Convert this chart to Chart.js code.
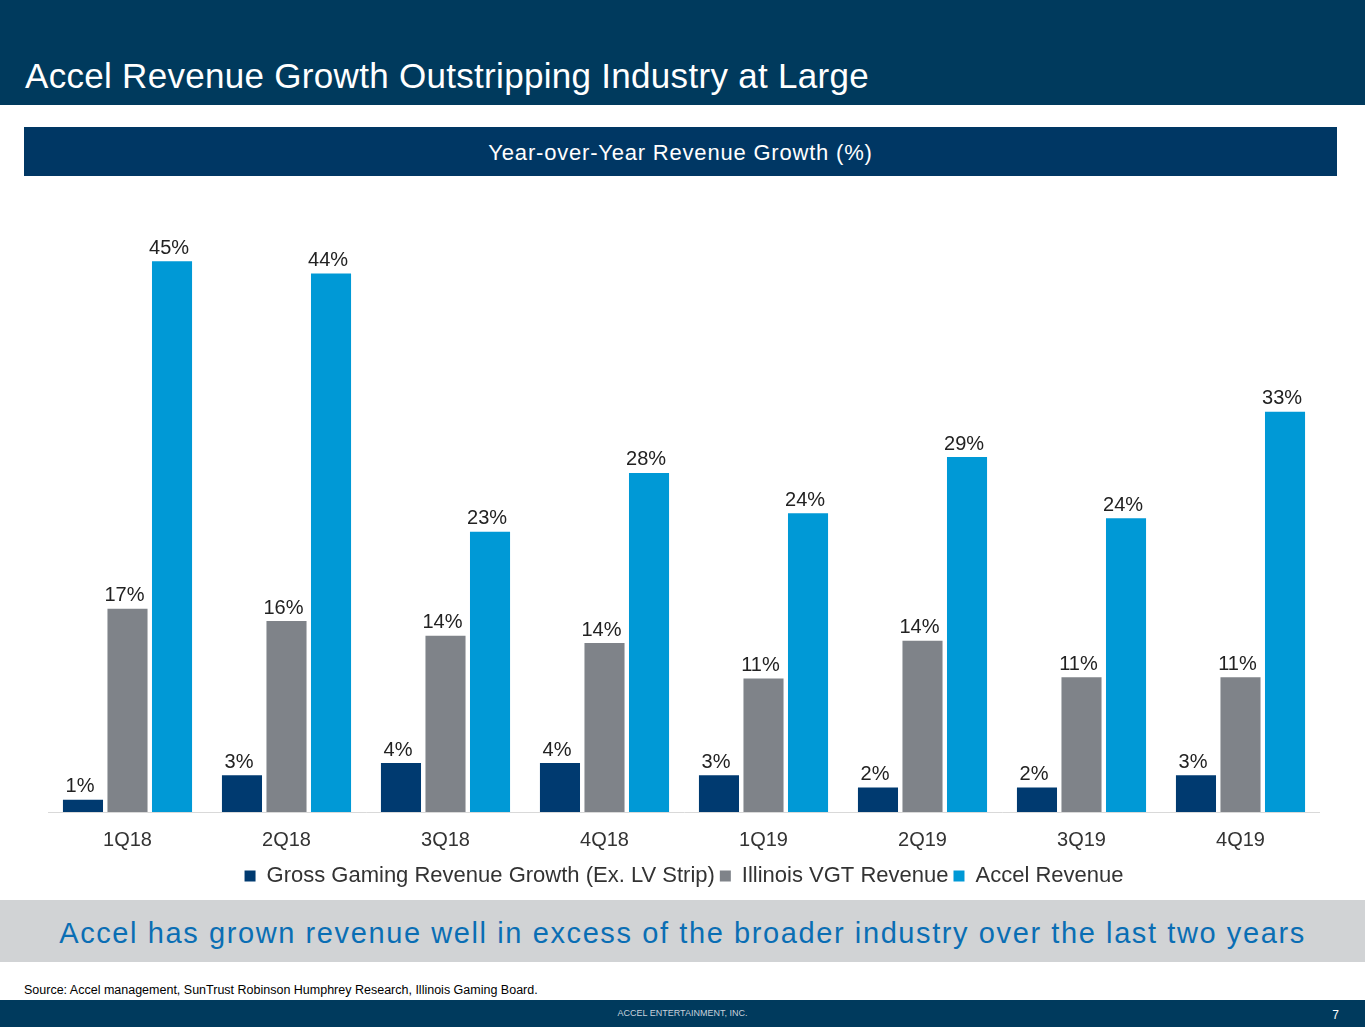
<!DOCTYPE html>
<html>
<head>
<meta charset="utf-8">
<script src="https://cdn.jsdelivr.net/npm/chart.js@4"></script>
<style>
  body{margin:0;width:1365px;height:1027px;position:relative;background:#fff;font-family:Arial,"Liberation Sans",sans-serif;overflow:hidden}
  .hdr{position:absolute;left:0;top:0;width:1365px;height:105px;background:#003a5d}
  .hdr h1{margin:0;position:absolute;left:25px;top:56px;color:#fff;font-weight:normal;font-size:35px;letter-spacing:0.3px}
  .sub{position:absolute;left:24px;top:127px;width:1313px;height:49px;background:#003764;color:#fff;font-size:22px;text-align:center;line-height:52px;letter-spacing:0.8px}
  .box{position:absolute;left:20px;top:200px;width:1300px;height:697px}
  .msg{position:absolute;left:0;top:900px;width:1365px;height:62px;background:#d1d3d5;color:#0a6eb4;font-size:29px;text-align:center;line-height:66px;letter-spacing:1.6px}
  .src{position:absolute;left:24px;top:983px;font-size:12.5px;color:#000}
  .ftr{position:absolute;left:0;top:1000px;width:1365px;height:27px;background:#003a5d;color:#c8d2dc;font-size:9px;text-align:center;line-height:26px}
  .ftr span{position:absolute;right:26px;top:2px;color:#fff;font-size:12px}
</style>
</head>
<body>
<div class="hdr"><h1>Accel Revenue Growth Outstripping Industry at Large</h1></div>
<div class="sub">Year-over-Year Revenue Growth (%)</div>
<div class="box"><canvas id="barChart"></canvas></div>
<div class="msg">Accel has grown revenue well in excess of the broader industry over the last two years</div>
<div class="src">Source: Accel management, SunTrust Robinson Humphrey Research, Illinois Gaming Board.</div>
<div class="ftr">ACCEL ENTERTAINMENT, INC.<span>7</span></div>
<script>
// quarterly yoy growth
const quarters = ["1Q18","2Q18","3Q18","4Q18","1Q19","2Q19","3Q19","4Q19"];
const series = [
  { label: "Gross Gaming Revenue Growth (Ex. LV Strip)", color: "#003a70",
    data: [1.0, 3.0, 4.0, 4.0, 3.0, 2.0, 2.0, 3.0] },
  { label: "Illinois VGT Revenue", color: "#7f8389",
    data: [16.6, 15.6, 14.4, 13.8, 10.9, 14.0, 11.0, 11.0] },
  { label: "Accel Revenue", color: "#0099d6",
    data: [45.0, 44.0, 22.9, 27.7, 24.4, 29.0, 24.0, 32.7] }
];

// value labels above each bar
const valueLabels = {
  id: "valueLabels",
  afterDatasetsDraw(chart){
    const ctx = chart.ctx;
    ctx.save();
    ctx.font = "20px Arial, 'Liberation Sans', sans-serif";
    ctx.fillStyle = "#222";
    ctx.textAlign = "center";
    ctx.textBaseline = "bottom";
    chart.data.datasets.forEach((ds, i) => {
      chart.getDatasetMeta(i).data.forEach((bar, j) => {
        ctx.fillText(Math.round(ds.data[j]) + "%", bar.x - 3, bar.y - 3);
      });
    });
    ctx.restore();
  }
};

new Chart(barChart, {
  type: "bar",
  data: {
    labels: quarters,
    datasets: series.map(s => ({
      label: s.label, data: s.data, backgroundColor: s.color,
      categoryPercentage: 0.84, barPercentage: 0.9
    }))
  },
  options: {
    responsive: true,
    maintainAspectRatio: false,
    animation: false,
    layout: { padding: { top: 0, left: 28, right: 0 } },
    scales: {
      y: { display: false, min: 0, max: 50 },
      x: {
        grid: { display: false },
        border: { color: "#d9d9d9" },
        ticks: { color: "#333", font: { size: 20, family: "Arial, 'Liberation Sans', sans-serif" }, padding: 8 }
      }
    },
    plugins: {
      legend: {
        position: "bottom",
        labels: { boxWidth: 11, boxHeight: 11, color: "#333", padding: 5,
          font: { size: 22, family: "Arial, 'Liberation Sans', sans-serif" } }
      },
      tooltip: { enabled: false }
    }
  },
  plugins: [valueLabels]
});
</script>
</body>
</html>
